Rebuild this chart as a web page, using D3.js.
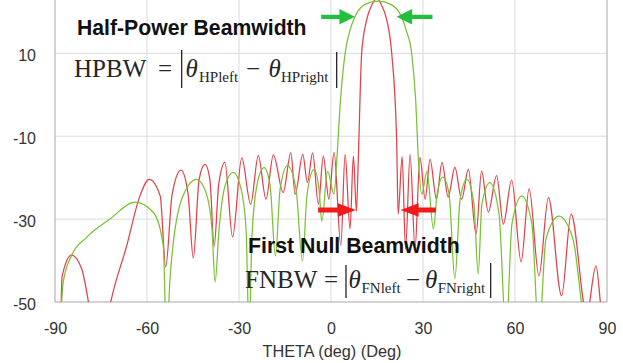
<!DOCTYPE html>
<html>
<head>
<meta charset="utf-8">
<script src="https://cdn.jsdelivr.net/npm/d3@7"></script>
<style>
  body { margin: 0; background: #fff; }
  svg { display: block; }
</style>
</head>
<body>
<div id="chart"></div>
<script>
// red: narrow beam, green: wide beam (theta in deg, level in dB)
const redTheta = [-88.0, -87.7, -84.6, -81.3, -78.6, -75.3, -72.1, -66.6, -62.3, -59.3, -55.7, -53.9,
  -51.8, -48.9, -46.6, -44.9, -43.0, -41.1, -39.5, -38.1, -36.6, -34.6, -32.1, -29.1, -26.2, -23.7,
  -21.2, -18.8, -15.6, -13.1, -11.7, -9.2, -7.7, -6.0, -4.1, -2.5, -0.7, 1.0, 3.2, 4.6, 6.2, 7.3,
  8.3, 8.9, 10.0, 11.6, 13.3, 14.9, 16.5, 18.2, 19.8, 21.4, 21.9, 23.2, 24.3, 25.8, 27.4, 29.0,
  30.7, 32.3, 34.4, 36.2, 38.2, 40.4, 42.6, 44.8, 47.3, 49.1, 51.3, 54.0, 56.2, 58.9, 62.0, 64.6,
  67.8, 70.9, 75.2, 78.3, 83.4, 86.4, 88.3, 90.0];
const redDb = [-51, -43.9, -38.7, -42.0, -52, -65, -51, -36.4, -24.4, -20.4, -24.4, -41.5,
  -24.0, -18.2, -24.0, -39.4, -20.4, -16.8, -20.4, -36.5, -21.5, -16.3, -34.3, -15.2, -26.4, -14.7,
  -25.2, -14.5, -23.6, -14.0, -24.0, -14.4, -21.2, -14.0, -26.4, -14.8, -25.2, -13.9, -36.4, -14.4, -32.4, -14.8,
  -28.1, -15.6, 10.0, 18.0, 21.6, 23.3, 21.6, 18.0, 10.0, -10.8, -28.8, -14.9, -37.2, -14.4, -37.2, -15.1,
  -25.2, -15.6, -25.2, -16.3, -24.7, -17.5, -25.2, -18.0, -33.6, -18.4, -28.3, -19.5, -31.2, -20.6, -40.3, -22.7,
  -43.7, -24.8, -48.5, -28.8, -53, -41.3, -53, -57];

const greenTheta = [-88.0, -87.3, -84.6, -79.7, -72.1, -63.9, -57.9, -54.7, -53.6, -52.5, -48.7, -43.8,
  -40.8, -38.8, -37.8, -36.5, -34.6, -31.9, -29.3, -27.7, -26.7, -25.8, -24.1, -21.8, -19.9, -18.1,
  -16.6, -14.2, -11.4, -9.3, -7.8, -5.5, -3.9, -3.0, -1.1, 1.0, 1.9, 3.1, 4.6, 6.2, 7.8, 11.1,
  15.4, 19.5, 23.0, 24.5, 26.3, 27.6, 28.5, 29.6, 31.3, 33.4, 34.6, 36.5, 38.5, 40.4, 42.1, 44.3,
  46.6, 48.0, 49.2, 51.8, 54.8, 57.1, 59.0, 62.2, 65.5, 67.8, 70.1, 74.3, 78.9, 83.2, 86.4, 90.0];
const greenDb = [-52, -45.1, -38.8, -34.4, -30.0, -25.9, -28.4, -36.4, -60, -44.4, -25.2, -20.4,
  -23.5, -32.4, -45.2, -32.4, -22.1, -18.7, -22.8, -32.4, -58, -34.8, -21.6, -17.6, -21.6, -38.9,
  -22.8, -17.1, -22.8, -40.1, -24.0, -18.0, -22.8, -30.5, -18.5, -24.0, -15.6, -1.2, 10.0, 15.6, 18.8, 21.8,
  22.6, 21.8, 18.8, 15.6, 10.0, -1.2, -15.6, -24.0, -18.5, -32.4, -24.0, -19.9, -24.0, -44.4, -25.2, -20.4,
  -26.4, -43.2, -26.4, -21.2, -28.8, -58, -31.2, -24.4, -31.2, -58, -34.8, -29.3, -34.8, -58, -62, -64];

const xTicks = [-90, -60, -30, 0, 30, 60, 90];
const yTicks = [-50, -30, -10, 10];
const xTitle = "THETA (deg) (Deg)";

// beamwidth arrows: [tail theta, tip theta] at a level in dB
const hpArrows = [[-3.2, 7.8], [33.1, 21.4]];
const hpLevel = 18.8;
const fnArrows = [[-4.2, 8.1], [34.2, 22.7]];
const fnLevel = -27.8;

const width = 623, height = 363;
const plotLeft = 55, plotRight = 607, plotTop = 0, plotBottom = 302;
const sans = "'Liberation Sans', Arial, sans-serif";

const svg = d3.select("#chart").append("svg")
  .attr("width", width)
  .attr("height", height)
  .style("font-family", sans);

const x = d3.scaleLinear().domain([-90, 90]).range([plotLeft, plotRight]);
const y = d3.scaleLinear().domain([-50, 10]).range([plotBottom, 53.3]);

// grid
svg.append("g")
  .selectAll("line")
  .data(yTicks.filter(d => d !== -50))
  .join("line")
  .attr("x1", plotLeft).attr("x2", plotRight)
  .attr("y1", d => y(d)).attr("y2", d => y(d))
  .attr("stroke", "#dadada");
svg.append("g")
  .selectAll("line")
  .data(xTicks.filter(d => d !== -90 && d !== 90))
  .join("line")
  .attr("x1", d => x(d)).attr("x2", d => x(d))
  .attr("y1", plotTop).attr("y2", plotBottom)
  .attr("stroke", "#dadada");

// frame
svg.append("line").attr("x1", plotLeft).attr("x2", plotLeft).attr("y1", plotTop).attr("y2", plotBottom).attr("stroke", "#a8a8a8");
svg.append("line").attr("x1", plotLeft).attr("x2", plotRight).attr("y1", plotBottom).attr("y2", plotBottom).attr("stroke", "#a8a8a8");
svg.append("line").attr("x1", plotRight).attr("x2", plotRight).attr("y1", plotTop).attr("y2", plotBottom).attr("stroke", "#a8a8a8");

// axes (labels only)
const yAxis = svg.append("g")
  .attr("transform", `translate(${plotLeft},0)`)
  .call(d3.axisLeft(y).tickValues(yTicks).tickSize(0).tickPadding(19).tickFormat(d => String(d)));
yAxis.select(".domain").remove();
yAxis.selectAll("text").attr("font-size", 16).attr("fill", "#333").attr("dy", "0.45em")
  .style("font-family", sans);

const xAxis = svg.append("g")
  .attr("transform", `translate(0,${plotBottom})`)
  .call(d3.axisBottom(x).tickValues(xTicks).tickSize(0).tickPadding(20.5).tickFormat(d => String(d)));
xAxis.select(".domain").remove();
xAxis.selectAll("text").attr("font-size", 16).attr("fill", "#333")
  .style("font-family", sans);

svg.append("text")
  .attr("x", (plotLeft + plotRight) / 2 + 1)
  .attr("y", 356.5)
  .attr("text-anchor", "middle")
  .attr("font-size", 16.3)
  .attr("fill", "#333")
  .text(xTitle);

// curves
svg.append("clipPath").attr("id", "plotclip")
  .append("rect").attr("x", plotLeft).attr("y", plotTop)
  .attr("width", plotRight - plotLeft).attr("height", plotBottom - plotTop);

const line = d3.line()
  .x(d => x(d[0]))
  .y(d => y(d[1]))
  .curve(d3.curveMonotoneX);

const plot = svg.append("g").attr("clip-path", "url(#plotclip)");
plot.append("path")
  .attr("d", line(d3.zip(redTheta, redDb)))
  .attr("fill", "none")
  .attr("stroke", "#e3404a")
  .attr("stroke-width", 1.25);
plot.append("path")
  .attr("d", line(d3.zip(greenTheta, greenDb)))
  .attr("fill", "none")
  .attr("stroke", "#78c234")
  .attr("stroke-width", 1.25);

// arrows
function drawArrow(t0, t1, level, color, shaft, headLen, headHalf) {
  const x0 = x(t0), x1 = x(t1), yy = y(level);
  const dir = Math.sign(x1 - x0);
  const xb = x1 - dir * headLen;
  svg.append("path")
    .attr("d", `M${x0},${yy - shaft / 2}L${xb},${yy - shaft / 2}L${xb},${yy - headHalf}L${x1},${yy}` +
      `L${xb},${yy + headHalf}L${xb},${yy + shaft / 2}L${x0},${yy + shaft / 2}Z`)
    .attr("fill", color);
}
hpArrows.forEach(a => drawArrow(a[0], a[1], hpLevel, "#22bf3e", 4.3, 15.5, 7.8));
fnArrows.forEach(a => drawArrow(a[0], a[1], fnLevel, "#f01a1a", 5, 18, 6.8));

// annotation titles
svg.append("text")
  .attr("x", 77).attr("y", 35)
  .attr("font-size", 21.2).attr("font-weight", "bold").attr("fill", "#111")
  .text("Half-Power Beamwidth");
svg.append("text")
  .attr("x", 248).attr("y", 253.3)
  .attr("font-size", 21.3).attr("font-weight", "bold").attr("fill", "#111")
  .text("First Null Beamwidth");

// formulas
const serif = "'Liberation Serif', 'Times New Roman', serif";
function formula(parts, bars, base) {
  parts.forEach(p => {
    svg.append("text")
      .attr("x", p.x)
      .attr("y", base + (p.sub ? 5 : 0))
      .attr("font-size", p.sub ? 15 : 25)
      .attr("font-style", p.it ? "italic" : "normal")
      .attr("fill", "#262626")
      .style("font-family", serif)
      .text(p.t);
  });
  bars.forEach(b => {
    svg.append("line")
      .attr("x1", b[0]).attr("x2", b[0])
      .attr("y1", b[1]).attr("y2", b[2])
      .attr("stroke", "#111").attr("stroke-width", 1.2);
  });
}

formula([
  { t: "HPBW", x: 74 },
  { t: "=", x: 158 },
  { t: "θ", x: 185.5, it: true },
  { t: "HPleft", x: 199, sub: true },
  { t: "−", x: 246 },
  { t: "θ", x: 268.5, it: true },
  { t: "HPright", x: 281, sub: true }
], [[181.7, 50, 88], [336.7, 52, 88]], 76.7);

formula([
  { t: "FNBW", x: 245 },
  { t: "=", x: 324 },
  { t: "θ", x: 348.5, it: true },
  { t: "FNleft", x: 361.5, sub: true },
  { t: "−", x: 406 },
  { t: "θ", x: 425, it: true },
  { t: "FNright", x: 437.7, sub: true }
], [[346, 265, 298], [490.7, 263, 298]], 288.3);
</script>
</body>
</html>
